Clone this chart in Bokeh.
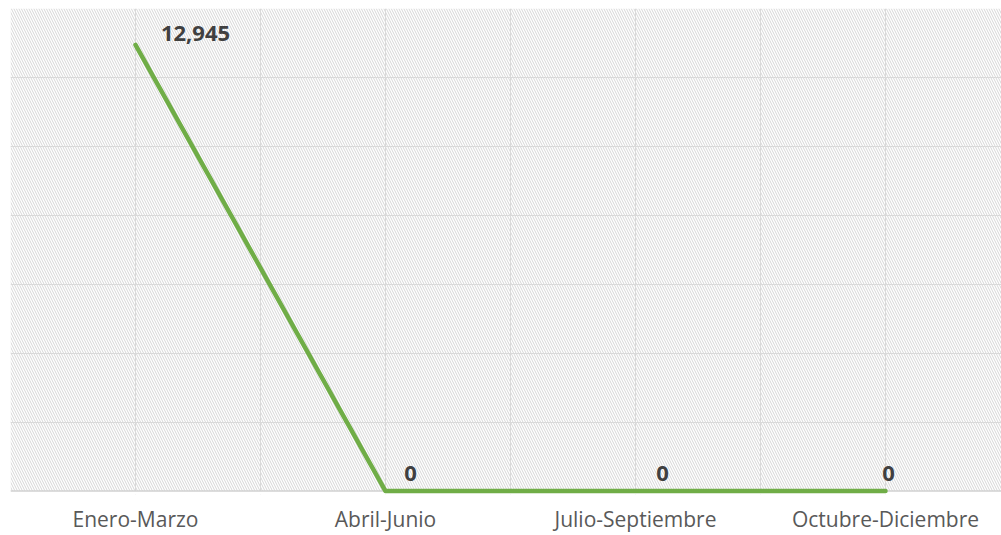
from bokeh.plotting import figure
from bokeh.models import Range1d, FixedTicker, BoxAnnotation, ColumnDataSource, Span
from bokeh.core.properties import value
from bokeh.embed import file_html
from bokeh.resources import INLINE

categories = ["Enero-Marzo", "Abril-Junio", "Julio-Septiembre", "Octubre-Diciembre"]
values = [12945, 0, 0, 0]
labels = ["12,945", "0", "0", "0"]
y_ticks = [0, 2000, 4000, 6000, 8000, 10000, 12000, 14000]

# label offsets in screen pixels (style)
label_dx = [60, 25, 27, 3]
label_dy = [-11, -18, -18, -18]

idx = list(range(len(categories)))

p = figure(width=1001, height=535, output_backend="svg", toolbar_location=None,
           x_range=Range1d(-0.5, 3.464), y_range=Range1d(-100, 14000),
           min_border_left=10, min_border_right=0, min_border_top=8, min_border_bottom=30)
p.outline_line_color = None
p.background_fill_color = "white"
p.border_fill_color = "white"
p.yaxis.visible = False

hatch = BoxAnnotation(bottom=y_ticks[0], fill_alpha=0, line_color=None,
                      hatch_pattern="left_diagonal_line",
                      hatch_color="#d6d6d6", hatch_scale=5, hatch_weight=1, level="image")
p.add_layout(hatch)

p.xgrid.ticker = FixedTicker(ticks=[i * 0.5 - 0.5 for i in range(2 * len(categories))])
p.ygrid.ticker = FixedTicker(ticks=y_ticks[1:])
for g in (p.xgrid, p.ygrid):
    g.grid_line_color = "#d9d9d9"
    g.grid_line_width = 1

# white strip below the baseline so gridlines stop at the axis
mask = BoxAnnotation(top=y_ticks[0], fill_color="white", fill_alpha=1, line_color=None,
                     level="underlay")
p.add_layout(mask)

base = Span(location=y_ticks[0], dimension="width", line_color="#d0d0d0",
            line_width=1.5, level="underlay")
p.add_layout(base)

ax = p.xaxis[0]
ax.ticker = FixedTicker(ticks=idx)
ax.major_label_overrides = {i: c for i, c in zip(idx, categories)}
ax.axis_line_color = None
ax.major_tick_line_color = None
ax.minor_tick_line_color = None
ax.major_tick_out = 0
ax.major_tick_in = 0
ax.minor_tick_out = 0
ax.major_label_text_font = "Open Sans"
ax.major_label_text_font_size = "21px"
ax.major_label_text_color = "#595959"
ax.major_label_standoff = 10

src = ColumnDataSource(dict(x=idx, y=values, t=labels, dx=label_dx, dy=label_dy))
p.line(x="x", y="y", source=src, line_color="#70ad47", line_width=4.5,
       line_cap="round", line_join="round")
p.text(x="x", y="y", text="t", x_offset="dx", y_offset="dy", source=src,
       text_font=value("Open Sans"), text_font_style="bold", text_font_size="22px",
       text_color="#404040", text_align="center", text_baseline="middle")

open("out.html", "w").write(file_html(p, INLINE))
